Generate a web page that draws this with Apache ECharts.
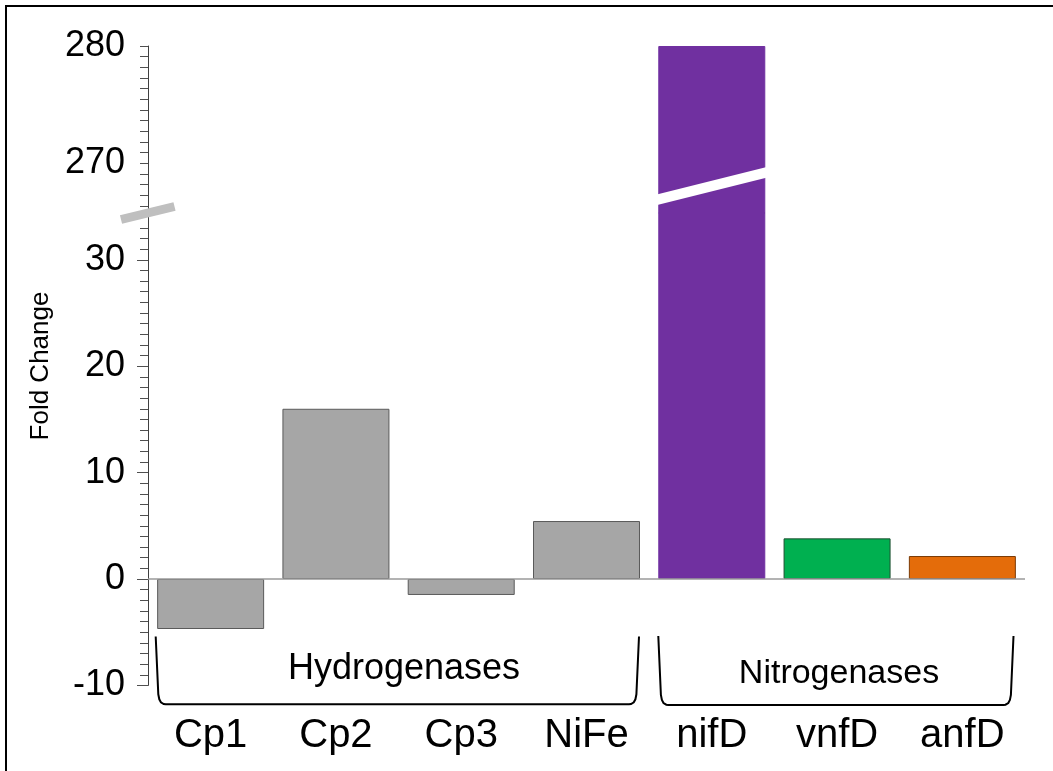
<!DOCTYPE html>
<html>
<head>
<meta charset="utf-8">
<script src="https://cdn.jsdelivr.net/npm/echarts@6/dist/echarts.min.js"></script>
<style>
  html, body { margin: 0; padding: 0; background: #ffffff; }
  #chart { width: 1053px; height: 771px; }
</style>
</head>
<body>
<div id="chart"></div>
<script>
// ---- data ----
const categories = ['Cp1', 'Cp2', 'Cp3', 'NiFe', 'nifD', 'vnfD', 'anfD'];
const foldChange = [-4.7, 16.0, -1.5, 5.45, 280, 3.82, 2.16];
const groupNames = ['Hydrogenases', 'Nitrogenases'];
const lowerTickLabels = [-10, 0, 10, 20, 30];
const upperTickLabels = [270, 280];

// ---- broken value axis: two stacked segments ----
const lowerRange = [-10, 34.4];
const upperRange = [265.76, 280];
// minor ticks: every unit below the break, 11 steps per decade above it
const lowerMinorTicks = Array.from({ length: 44 }, (_, k) => lowerRange[0] + k);
const upperTicks = Array.from({ length: 16 }, (_, k) => upperRange[1] - k * 10 / 11);

// ---- styles ----
const FONT = '"Liberation Sans", Arial, Helvetica, sans-serif';
const barFill = ['#a6a6a6', '#a6a6a6', '#a6a6a6', '#a6a6a6', '#7030a0', '#00b050', '#e46c0a'];
const barEdge = ['#5a5a5a', '#5a5a5a', '#5a5a5a', '#5a5a5a', '#7030a0', '#1e4f30', '#7a3a06'];

const gridLeft = 148;
const gridRight = 28;
const topY = 46;
const splitY = 213;
const bottomY = 685.4;

function barItem(v, i) {
  return {
    value: v,
    itemStyle: { color: barFill[i], borderColor: barEdge[i], borderWidth: 1 }
  };
}

const axisLineStyle = { show: true, onZero: false, lineStyle: { color: '#404040', width: 1 } };
const valueLabel = { fontSize: 36, color: '#000', fontFamily: FONT, margin: 23 };
const tickLine = { color: '#505050', width: 1 };

// bracket under a group of categories, with slightly rounded lower corners
function bracket(x0, x1, yTop, yBot) {
  return [
    [x0, yTop], [x0 + 2.6, yBot - 10], [x0 + 3.6, yBot - 5], [x0 + 5.2, yBot - 2],
    [x0 + 8, yBot - 0.3], [x0 + 10, yBot],
    [x1 - 10, yBot], [x1 - 8, yBot - 0.3], [x1 - 5.2, yBot - 2], [x1 - 3.6, yBot - 5],
    [x1 - 2.6, yBot - 10], [x1, yTop]
  ];
}

const chart = echarts.init(document.getElementById('chart'), null, { renderer: 'canvas' });

const option = {
  animation: false,
  backgroundColor: '#ffffff',
  grid: [
    { left: gridLeft, right: gridRight, top: topY, height: splitY - topY },
    { left: gridLeft, right: gridRight, top: splitY, height: bottomY - splitY }
  ],
  xAxis: [
    { type: 'category', gridIndex: 0, data: categories, show: false },
    {
      type: 'category', gridIndex: 1, data: categories, position: 'bottom',
      axisLine: { show: false, onZero: false },
      axisTick: { show: false },
      axisLabel: { fontSize: 40, color: '#000', fontFamily: FONT, margin: 51, verticalAlign: 'middle' }
    }
  ],
  yAxis: [
    {
      type: 'value', gridIndex: 0, position: 'left', min: upperRange[0], max: upperRange[1],
      axisLine: axisLineStyle,
      axisTick: { show: true, length: 8, customValues: upperTicks, lineStyle: tickLine },
      axisLabel: Object.assign({ customValues: upperTickLabels, padding: [7, 0, 0, 0] }, valueLabel),
      splitLine: { show: false }
    },
    {
      type: 'value', gridIndex: 1, position: 'left', min: lowerRange[0], max: lowerRange[1],
      axisLine: axisLineStyle,
      axisTick: { show: true, length: 11, customValues: lowerTickLabels, lineStyle: tickLine },
      axisLabel: Object.assign({ customValues: lowerTickLabels }, valueLabel),
      splitLine: { show: false }
    },
    {
      type: 'value', gridIndex: 1, position: 'left', offset: 0, min: lowerRange[0], max: lowerRange[1],
      axisLine: { show: false },
      axisTick: { show: true, length: 8, customValues: lowerMinorTicks, lineStyle: tickLine },
      axisLabel: { show: false },
      splitLine: { show: false }
    }
  ],
  series: [
    {
      name: 'upper', type: 'bar', xAxisIndex: 0, yAxisIndex: 0, clip: true,
      barWidth: '85.4%',
      data: foldChange.map((v, i) => (v > upperRange[0] ? barItem(v, i) : '-'))
    },
    {
      name: 'lower', type: 'bar', xAxisIndex: 1, yAxisIndex: 1, clip: true,
      barWidth: '85.4%',
      data: foldChange.map((v, i) => barItem(v, i)),
      markLine: {
        silent: true, symbol: ['none', 'none'], label: { show: false },
        lineStyle: { color: '#9a9a9a', width: 1.5, type: 'solid' },
        data: [{ yAxis: 0 }]
      }
    }
  ],
  graphic: [
    // outer frame
    {
      type: 'rect', shape: { x: 6, y: 6, width: 1100, height: 900 },
      style: { fill: 'none', stroke: '#000', lineWidth: 2 }, z: 100
    },
    // axis break mark
    {
      type: 'line', shape: { x1: 121, y1: 219.5, x2: 174.5, y2: 206.5 },
      style: { stroke: '#bfbfbf', lineWidth: 9 }, z: 100
    },
    // break band across the tall bar
    {
      type: 'line', shape: { x1: 654, y1: 200.5, x2: 770, y2: 171.5 },
      style: { stroke: '#ffffff', lineWidth: 10.5 }, z: 100
    },
    // group brackets
    {
      type: 'polyline', shape: { points: bracket(155.7, 639, 636.5, 704.3) },
      style: { stroke: '#000', lineWidth: 2, fill: 'none' }, z: 100
    },
    {
      type: 'polyline', shape: { points: bracket(658.3, 1013.5, 636, 705) },
      style: { stroke: '#000', lineWidth: 2, fill: 'none' }, z: 100
    },
    {
      type: 'text', x: 404, y: 669, z: 100,
      style: { text: groupNames[0], font: '36px ' + FONT, fill: '#000', textAlign: 'center', textVerticalAlign: 'middle' }
    },
    {
      type: 'text', x: 839, y: 673.4, z: 100,
      style: { text: groupNames[1], font: '34px ' + FONT, fill: '#000', textAlign: 'center', textVerticalAlign: 'middle' }
    },
    // value axis title
    {
      type: 'text', x: 41, y: 366, rotation: Math.PI / 2, z: 100,
      style: { text: 'Fold Change', font: '26px ' + FONT, fill: '#000', textAlign: 'center', textVerticalAlign: 'middle' }
    }
  ]
};

chart.setOption(option);
</script>
</body>
</html>
